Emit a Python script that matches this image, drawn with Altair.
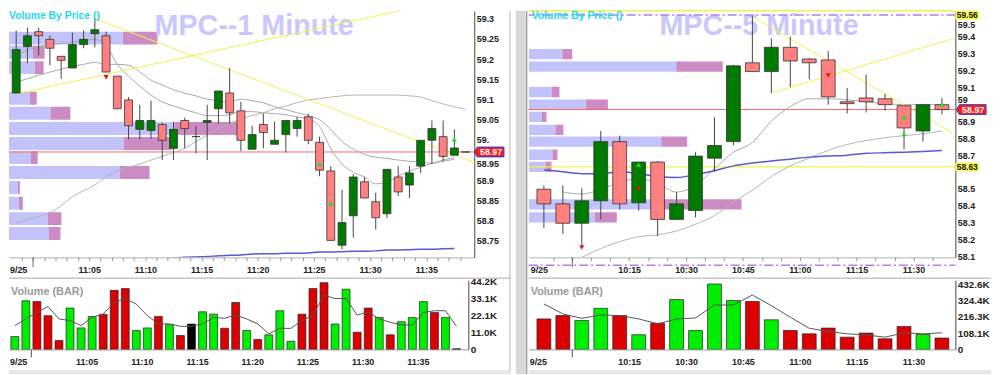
import altair as alt
import pandas as pd

FONT = "Liberation Sans"

# ====================== MPC 1 Minute (left) ======================
L_FIRST = -1.5          # centre of first bar, minutes after 11:00 (10:58 bar)
L_OPEN = [59.116, 59.231, 59.268, 59.249, 59.207, 59.178, 59.236, 59.263, 59.258, 59.158,
          59.099, 59.026, 59.023, 59.038, 58.979, 59.048, 59.008, 59.043, 59.077, 59.116,
          59.072, 58.977, 59.038, 58.989, 59.013, 59.028, 59.057, 58.994, 58.923, 58.739,
          58.812, 58.896, 58.847, 58.817, 58.908, 58.888, 58.935, 58.999, 59.008, 58.962, 58.970]
L_HIGH = [59.271, 59.278, 59.278, 59.258, 59.207, 59.266, 59.271, 59.300, 59.268, 59.158,
          59.106, 59.087, 59.097, 59.043, 59.045, 59.055, 59.035, 59.087, 59.121, 59.178,
          59.094, 59.035, 59.065, 59.045, 59.048, 59.057, 59.065, 59.008, 58.935, 58.876,
          58.915, 58.908, 58.869, 58.927, 58.935, 58.935, 58.999, 59.048, 59.048, 59.026, 58.970]
L_LOW = [59.114, 59.190, 59.209, 59.185, 59.151, 59.178, 59.227, 59.229, 59.168, 59.077,
         59.001, 59.001, 59.003, 58.950, 58.950, 58.979, 58.967, 58.950, 59.040, 59.040,
         58.972, 58.977, 58.979, 58.989, 58.969, 59.008, 58.989, 58.910, 58.751, 58.729,
         58.758, 58.856, 58.778, 58.807, 58.861, 58.856, 58.918, 58.940, 58.947, 58.962, 58.970]
L_CLOSE = [59.224, 59.258, 59.258, 59.227, 59.197, 59.236, 59.249, 59.273, 59.168, 59.077,
           59.035, 59.048, 59.048, 58.999, 59.026, 59.028, 59.008, 59.048, 59.121, 59.067,
           58.999, 59.013, 59.018, 58.999, 59.048, 59.048, 58.999, 58.925, 58.751, 58.795,
           58.908, 58.856, 58.807, 58.927, 58.871, 58.918, 58.999, 59.028, 58.959, 58.980, 58.970]
L_VOLUME = [8300, 31400, 30900, 21800, 5800, 26700, 13900, 21300, 22600, 38200,
            39300, 12200, 13900, 21300, 16000, 9000, 16400, 24300, 22800, 13700,
            30300, 12200, 6400, 9400, 25000, 5300, 22800, 39300, 43100, 16400,
            38900, 11100, 26700, 20700, 9400, 17900, 20700, 30900, 23900, 20700, 400]
L_VOLUME_AVG = [15400, 19700, 23900, 27700, 19700, 18600, 15400, 20700, 22900, 30300,
                32900, 29300, 21800, 16500, 16500, 14900, 14900, 16500, 20700, 20100,
                22200, 19700, 16500, 10100, 13600, 13600, 18600, 22200, 35000, 32900,
                32900, 22200, 24300, 19700, 17500, 15800, 15800, 23900, 25000, 25000, 14900]
L_AVG_FAST = [59.212, 59.222, 59.231, 59.236, 59.239, 59.241, 59.246, 59.249, 59.234, 59.187,
              59.158, 59.133, 59.111, 59.094, 59.084, 59.075, 59.067, 59.060, 59.060, 59.062,
              59.070, 59.070, 59.067, 59.065, 59.062, 59.057, 59.052, 59.033, 58.979, 58.940,
              58.920, 58.908, 58.891, 58.896, 58.910, 58.923, 58.932, 58.942, 58.950, 58.957]
L_AVG_MID = [59.143, 59.151, 59.160, 59.168, 59.175, 59.182, 59.187, 59.192, 59.187, 59.187,
             59.185, 59.168, 59.148, 59.136, 59.124, 59.116, 59.109, 59.101, 59.097, 59.094,
             59.101, 59.097, 59.092, 59.082, 59.075, 59.067, 59.060, 59.050, 59.026, 58.996,
             58.977, 58.964, 58.957, 58.954, 58.950, 58.947, 58.945, 58.942, 58.947, 58.952]
L_AVG_SLOW = [58.795, 58.803, 58.810, 58.820, 58.837, 58.859, 58.874, 58.888, 58.908, 58.923,
              58.932, 58.940, 58.950, 58.959, 58.969, 58.979, 58.996, 59.011, 59.028, 59.040,
              59.052, 59.060, 59.067, 59.077, 59.084, 59.092, 59.099, 59.102, 59.106, 59.109,
              59.111, 59.111, 59.111, 59.111, 59.111, 59.109, 59.106, 59.097, 59.089, 59.082, 59.075]
L_AVG_LONG_FROM = 13
L_AVG_LONG = [58.705, 58.707, 58.709, 58.710, 58.711, 58.713, 58.714, 58.715, 58.717, 58.718,
              58.718, 58.719, 58.719, 58.720, 58.722, 58.722, 58.723, 58.724, 58.724, 58.725,
              58.727, 58.727, 58.728, 58.729, 58.729, 58.730, 58.731]
L_VBP_PRICE = [59.252, 59.217, 59.179, 59.103, 59.066, 59.028, 58.991, 58.956, 58.919,
               58.882, 58.843, 58.805, 58.768]
L_VBP_BUY = [115, 24, 26, 21, 42, 167, 116, 22, 112, 9, 10, 39, 40]
L_VBP_SELL = [35, 12, 9, 7, 20, 70, 48, 7, 30, 2, 4, 14, 12]
L_LAST = 58.97
L_TREND_DOWN = ([5.5, 39.5], [59.300, 58.942])
L_TREND_UP = ([-1.5, 39.5], [59.114, 59.361])
L_MARK_UP = ([27, 28, 39], [58.940, 58.842, 59.001])
L_MARK_DOWN = ([8], [59.155])

# ====================== MPC 5 Minute (right) ======================
R_FIRST = -7.5          # centre of first bar, minutes after 10:00 (9:50 bar)
R_STEP = 5
R_OPEN = [58.498, 58.411, 58.296, 58.429, 58.780, 58.417, 58.659, 58.319, 58.371, 58.682, 58.780,
          59.247, 59.195, 59.339, 59.270, 59.264, 59.016, 59.039, 59.034, 58.993, 58.843, 58.999]
R_HIGH = [58.521, 58.521, 58.503, 58.843, 58.815, 58.659, 58.665, 58.481, 58.717, 58.924, 59.235,
          59.523, 59.391, 59.402, 59.275, 59.316, 59.097, 59.177, 59.062, 58.993, 58.999, 59.039]
R_LOW = [58.267, 58.233, 58.164, 58.319, 58.377, 58.371, 58.221, 58.319, 58.331, 58.601, 58.757,
         59.195, 59.068, 59.103, 59.149, 58.999, 58.947, 58.953, 58.964, 58.734, 58.780, 58.941]
R_CLOSE = [58.411, 58.296, 58.429, 58.780, 58.411, 58.659, 58.319, 58.411, 58.694, 58.757, 59.229,
           59.195, 59.339, 59.258, 59.247, 59.045, 59.005, 59.016, 58.999, 58.861, 58.999, 58.970]
R_VOLUME = [202000, 224000, 191000, 272000, 224000, 97000, 173000, 330000, 125000, 433000, 323000,
            317000, 196000, 125000, 103000, 141000, 81000, 108000, 70000, 152000, 99000, 75000]
R_VOLUME_AVG = [301000, 235000, 206000, 228000, 224000, 202000, 169000, 202000, 208000, 294000, 294000,
                360000, 290000, 213000, 140000, 119000, 103000, 96000, 81000, 110000, 103000, 110000]
R_AVG_FAST = [None, 58.481, 58.469, 58.498, 58.538, 58.561, 58.532, 58.481, 58.521, 58.619, 58.717,
              58.774, 58.901, 58.987, 59.034, 59.034, 59.028, 59.016, 59.005, 58.999, 58.999, 58.999]
R_AVG_SLOW = [None, None, 58.089, 58.146, 58.187, 58.216, 58.227, 58.250, 58.290, 58.342, 58.423,
              58.492, 58.573, 58.636, 58.682, 58.728, 58.763, 58.786, 58.803, 58.815, 58.826, 58.843]
R_AVG_LONG = [58.613, 58.601, 58.590, 58.590, 58.601, 58.590, 58.573, 58.567, 58.584, 58.607, 58.636,
              58.653, 58.665, 58.676, 58.688, 58.694, 58.699, 58.711, 58.714, 58.717, 58.722, 58.728]
R_VBP_PRICE = [59.298, 59.224, 59.074, 58.999, 58.927, 58.849, 58.780, 58.702, 58.630, 58.408, 58.331]
R_VBP_BUY = [34, 149, 23, 58, 13, 27, 134, 24, 17, 134, 67]
R_VBP_SELL = [10, 47, 8, 22, 5, 8, 26, 5, 6, 81, 22]
R_LAST = 58.97
R_SUPPORT = 58.63
R_DAY_HIGH = 59.56
R_DASH_LEVEL = 59.53
R_TREND_DOWN = ([47.5, 102.5], [59.520, 58.802])
R_TREND_UP = ([52.5, 102.5], [59.068, 59.404])
R_MARK_UP = ([5, 19, 19, 21], [58.642, 58.924, 58.826, 58.999])
R_MARK_DOWN = ([5, 2, 15], [58.498, 58.152, 59.172])

# ---------------------------------------------------------------
DIR_C = alt.Scale(domain=['up', 'down', 'flat'], range=['#007a00', '#ff8080', '#111111'])
DIR_V = alt.Scale(domain=['up', 'down', 'flat'], range=['#00ee00', '#dd0000', '#000000'])
ONE = pd.DataFrame({'k': [0]})
ARROW = "M-1,0L-0.8,-0.33L1,-0.33L1,0.33L-0.8,0.33Z"
BOX = "M-1,-0.36L1,-0.36L1,0.36L-1,0.36Z"
DASHDOT = [9, 3, 2, 3]


def candle_frame(first, step, o, h, l, c):
    n = len(o)
    d = ['up' if c[i] > o[i] else 'down' if c[i] < o[i] else 'flat' for i in range(n)]
    return pd.DataFrame({'t': [first + step * i for i in range(n)], 'open': o, 'high': h,
                         'low': l, 'close': c, 'dir': d})


def series_frame(first, step, vals, start=0, col='p'):
    df = pd.DataFrame({'t': [first + step * (start + i) for i in range(len(vals))], col: vals})
    return df.dropna()


def txt(s, x, y, size, color, align='left', baseline='middle', weight='bold'):
    return alt.Chart(ONE).mark_text(text=s, font=FONT, fontSize=size, fontWeight=weight,
                                    color=color, align=align,
                                    baseline=baseline).encode(x=alt.value(x), y=alt.value(y))


def deco_layers(deco):
    out = []
    for kind, x1, x2, y1, y2, col, dash in deco:
        if kind == 'rule':
            kw = dict(color=col, strokeWidth=1)
            if dash:
                kw['strokeDash'] = dash
                kw['strokeWidth'] = 1.5
            out.append(alt.Chart(ONE).mark_rule(**kw).encode(
                x=alt.value(x1), x2=alt.value(x2), y=alt.value(y1), y2=alt.value(y2)))
        else:
            out.append(alt.Chart(ONE).mark_rect(color=col).encode(
                x=alt.value(x1), x2=alt.value(x2), y=alt.value(y1), y2=alt.value(y2)))
    return out


def price_panel(w, h, xdom, ydom, clamp, xvals, xexpr, yvals, yfmt, yexpr, ybase,
                cdf, bw, lines, trends, hlines, mk_up, mk_dn, first, step,
                vbp, vbp_half, title, title_x, vbp_x, tags, deco, date_x):
    xs = alt.Scale(domain=xdom, nice=False, zero=False)
    ys = alt.Scale(domain=ydom, nice=False, zero=False, clamp=clamp)
    xa = alt.Axis(values=xvals, labelExpr=xexpr, title=None, grid=False, ticks=True, tickSize=3,
                  tickColor='#888888', domainColor='#b0b0b0', labelFont=FONT, labelFontSize=9,
                  labelFontWeight='bold', labelColor='#222222', labelPadding=5,
                  labelOverlap=False, labelFlush=False)
    yk = dict(orient='right', values=yvals, format=yfmt, title=None, grid=False, ticks=False,
              domainColor='#444444', labelFont=FONT, labelFontSize=9, labelFontWeight='bold',
              labelColor='#222222', labelPadding=2, labelOverlap=False, labelFlush=False)
    if yexpr:
        yk['labelExpr'] = yexpr
    if ybase:
        yk['labelBaseline'] = ybase
    ya = alt.Axis(**yk)

    def X(f):
        return alt.X(f + ':Q', scale=xs, axis=xa)

    def Y(f):
        return alt.Y(f + ':Q', scale=ys, axis=ya)

    # volume by price (own horizontal scale)
    vp, vb, vs = vbp
    vdf = pd.DataFrame({'plo': [p - vbp_half for p in vp], 'phi': [p + vbp_half for p in vp],
                        'a0': [0] * len(vp), 'a1': vb, 'a2': [b + s for b, s in zip(vb, vs)]})
    vx = alt.Scale(domain=[0, w], nice=False, zero=False)
    lav = alt.Chart(vdf).mark_bar(color='#c3c3fb', clip=True).encode(
        x=alt.X('a0:Q', scale=vx, axis=None), x2='a1', y=Y('plo'), y2='phi')
    mau = alt.Chart(vdf).mark_bar(color='#cc8cc3', clip=True).encode(
        x=alt.X('a1:Q', scale=vx, axis=None), x2='a2', y=Y('plo'), y2='phi')

    layers = [txt(title, title_x, 24, 29, '#c8c8ff', baseline='alphabetic')]
    for price, color, dash, sw in hlines:
        kw = dict(color=color, strokeWidth=sw)
        if dash:
            kw['strokeDash'] = dash
        layers.append(alt.Chart(pd.DataFrame({'p': [price]})).mark_rule(**kw).encode(y=Y('p')))
    for df, color, sw in lines:
        layers.append(alt.Chart(df).mark_line(color=color, strokeWidth=sw, clip=True,
                                              interpolate='monotone').encode(x=X('t'), y=Y('p')))
    for (tt, pp) in trends:
        layers.append(alt.Chart(pd.DataFrame({'t': tt, 'p': pp})).mark_line(
            color='#f2f24a', strokeWidth=1, clip=True).encode(x=X('t'), y=Y('p')))
    layers.append(alt.Chart(cdf).mark_rule(color='#444444', strokeWidth=1, clip=True).encode(
        x=X('t'), y=Y('low'), y2='high'))
    layers.append(alt.Chart(cdf).mark_bar(width=bw, stroke='#333333', strokeWidth=0.8,
                                          clip=True).encode(
        x=X('t'), y=Y('open'), y2='close', color=alt.Color('dir:N', scale=DIR_C, legend=None)))
    up = pd.DataFrame({'t': [first + step * i for i in mk_up[0]], 'p': mk_up[1]})
    dn = pd.DataFrame({'t': [first + step * i for i in mk_dn[0]], 'p': mk_dn[1]})
    layers.append(alt.Chart(up).mark_point(shape='triangle-up', filled=True, size=26, opacity=1,
                                           color='#1ee01e', clip=True).encode(x=X('t'), y=Y('p')))
    layers.append(alt.Chart(dn).mark_point(shape='triangle-down', filled=True, size=26, opacity=1,
                                           color='#ee1111', clip=True).encode(x=X('t'), y=Y('p')))
    for tg in tags:
        df = pd.DataFrame({'p': [tg['price']], 'label': [tg['text']]})
        yenc = alt.value(tg['ypix']) if tg.get('ypix') is not None else Y('p')
        kw = dict(shape=tg['shape'], size=tg['size'], filled=True, fill=tg['fill'], opacity=1)
        if tg.get('stroke'):
            kw['stroke'] = tg['stroke']
            kw['strokeWidth'] = 1
        else:
            kw['strokeWidth'] = 0
        layers.append(alt.Chart(df).mark_point(**kw).encode(x=alt.value(tg['x']), y=yenc))
        layers.append(alt.Chart(df).mark_text(font=FONT, fontSize=tg.get('fs', 9), fontWeight='bold',
                                              color=tg['tcolor'], align='center',
                                              baseline='middle').encode(
            x=alt.value(tg['x'] + tg.get('tdx', 0)), y=yenc, text='label:N'))
    layers.append(txt('Volume By Price ()', vbp_x, 0, 10.5, '#22d8ee', baseline='top'))
    layers.append(txt('9/25', date_x, h + 13, 9, '#222222'))
    layers.append(alt.Chart(pd.DataFrame({'t': [0]})).mark_rule(color='#666666').encode(
        x=X('t'), y=alt.value(h), y2=alt.value(h + 10)))
    layers += deco_layers(deco)
    inner = alt.layer(*layers)
    return alt.layer(alt.layer(lav, mau), inner).resolve_scale(x='independent').properties(
        width=w, height=h)


def volume_panel(w, h, xdom, ymax, xvals, xexpr, yvals, yexpr, vdf, bw, adf, deco):
    xs = alt.Scale(domain=xdom, nice=False, zero=False)
    ys = alt.Scale(domain=[0, ymax], nice=False, zero=True)
    xa = alt.Axis(values=xvals, labelExpr=xexpr, title=None, grid=False, ticks=False,
                  domainColor='#999999', labelFont=FONT, labelFontSize=9, labelFontWeight='bold',
                  labelColor='#222222', labelPadding=8, labelOverlap=False, labelFlush=False)
    ya = alt.Axis(orient='right', values=yvals, labelExpr=yexpr, title=None, grid=False,
                  ticks=False, domainColor='#444444', labelFont=FONT, labelFontSize=10,
                  labelFontWeight='bold', labelColor='#222222', labelPadding=2,
                  labelOverlap=False, labelFlush=False)
    X = alt.X('t:Q', scale=xs, axis=xa)
    bars = alt.Chart(vdf).mark_bar(width=bw, stroke='#222222', strokeWidth=0.7, clip=True).encode(
        x=X, y=alt.Y('vol:Q', stack=None, scale=ys, axis=ya),
        color=alt.Color('dir:N', scale=DIR_V, legend=None))
    avg = alt.Chart(adf).mark_line(color='#555555', strokeWidth=1, clip=True).encode(
        x=X, y=alt.Y('vol:Q', scale=ys, axis=ya))
    tick0 = alt.Chart(pd.DataFrame({'t': [0]})).mark_rule(color='#555555').encode(
        x=X, y=alt.value(h), y2=alt.value(h + 8))
    layers = [bars, avg, tick0, txt('Volume (BAR)', 2, 12, 11, '#9a9a9a'),
              txt('9/25', 1, h + 13, 9, '#222222')] + deco_layers(deco)
    return alt.layer(*layers).properties(width=w, height=h)


# ---------------- build left ----------------
LW, LH = 470, 249
l_candles = candle_frame(L_FIRST, 1, L_OPEN, L_HIGH, L_LOW, L_CLOSE)
l_lines = [
    (series_frame(L_FIRST, 1, L_AVG_SLOW), '#b4b4b4', 1),
    (series_frame(L_FIRST, 1, L_AVG_MID), '#a8a8a8', 1),
    (series_frame(L_FIRST, 1, L_AVG_FAST), '#a8a8a8', 1),
    (series_frame(L_FIRST, 1, L_AVG_LONG, start=L_AVG_LONG_FROM), '#5a5ad0', 1.5),
]
L_XEXPR = "(datum.value > 0 && datum.value % 5 == 0) ? '11:' + (datum.value < 10 ? '0' : '') + datum.value : ''"
left_price = price_panel(
    LW, LH, [-1.7, 38.83], [58.709, 59.3196], False,
    list(range(-1, 39)), L_XEXPR,
    [round(58.75 + 0.05 * k, 2) for k in range(12)], '.2~f',
    "datum.value == 59 ? '59.' : datum.label",
    {"condition": {"test": "abs(datum.value - 58.95) < 0.001", "value": "top"}, "value": "middle"},
    l_candles, 8, l_lines, [L_TREND_DOWN, L_TREND_UP], [(L_LAST, '#ff6464', None, 1)],
    L_MARK_UP, L_MARK_DOWN, L_FIRST, 1,
    (L_VBP_PRICE, L_VBP_BUY, L_VBP_SELL), 0.016, 'MPC--1 Minute', 147, 0,
    [dict(price=L_LAST, text='58.97', shape=ARROW, size=900, fill='#ff1a1a', stroke='#2a3fd6',
          tcolor='#ffffff', x=LW + 15, tdx=2)],
    [('rule', 506, 506, 0, 367, '#b4b4b4', None), ('rect', 512, 522, 0, 367, '#d9d9d9', None),
     ('rule', 523, 523, 0, 367, '#7a7a7a', None), ('rule', 0, 506, 270, 270, '#a8a8a8', None)],
    1)

l_vol = l_candles[['t', 'dir']].copy()
l_vol['vol'] = L_VOLUME
left_volume = volume_panel(
    464, 70, [-1.58, 39.12], 44800, list(range(5, 40, 5)),
    "'11:' + (datum.value < 10 ? '0' : '') + datum.value",
    [0, 11040, 22100, 33140, 44200],
    "datum.value == 0 ? '0' : format(datum.value / 1000, '.1f') + 'K'",
    l_vol, 8, series_frame(L_FIRST, 1, L_VOLUME_AVG, col='vol'),
    [('rect', 0, 506, 91, 95, '#e6e6e6', None)])

# ---------------- build right ----------------
RW, RH = 431, 249
r_candles = candle_frame(R_FIRST, R_STEP, R_OPEN, R_HIGH, R_LOW, R_CLOSE)
r_lines = [
    (series_frame(R_FIRST, R_STEP, R_AVG_SLOW), '#b4b4b4', 1),
    (series_frame(R_FIRST, R_STEP, R_AVG_FAST), '#a8a8a8', 1),
    (series_frame(R_FIRST, R_STEP, R_AVG_LONG), '#5a5ad0', 1.5),
]
R_TIME = ("floor((600 + datum.value) / 60) + ':' + ((600 + datum.value) % 60 < 10 ? '0' : '') "
          "+ ((600 + datum.value) % 60)")
R_YVALS = [v for v in [round(58.1 + 0.1 * k, 1) for k in range(15)] if v != 58.6]
right_price = price_panel(
    RW, RH, [-10.2, 99.74], [58.094, 59.555], True,
    list(range(-5, 100, 5)), "(datum.value > 0 && datum.value % 15 == 0) ? " + R_TIME + " : ''",
    R_YVALS, '.1~f', None,
    {"condition": [{"test": "datum.value > 59.45", "value": "top"},
                   {"test": "datum.value == 59", "value": "bottom"}], "value": "middle"},
    r_candles, 14, r_lines, [R_TREND_DOWN, R_TREND_UP],
    [(R_LAST, '#ff6464', None, 1), (R_SUPPORT, '#f2f24a', None, 1.2),
     (R_DAY_HIGH, '#f2f24a', None, 1.5), (R_DASH_LEVEL, '#b07ef0', DASHDOT, 1.5)],
    R_MARK_UP, R_MARK_DOWN, R_FIRST, R_STEP,
    (R_VBP_PRICE, R_VBP_BUY, R_VBP_SELL), 0.0305, 'MPC--5 Minute', 132, 3,
    [dict(price=R_LAST, text='58.97', shape=ARROW, size=900, fill='#ff1a1a', stroke='#2a3fd6',
          tcolor='#ffffff', x=RW + 16, tdx=2),
     dict(price=R_SUPPORT, text='58.63', shape=BOX, size=576, fill='#ffff3c', tcolor='#111111',
          x=RW + 12, fs=8.5),
     dict(price=R_DAY_HIGH, text='59.56', shape=BOX, size=576, fill='#ffff3c', tcolor='#111111',
          x=RW + 12, ypix=4.5, fs=8.5)],
    [('rule', 0, 467, 270, 270, '#a8a8a8', None), ('rule', 0, RW, 257, 257, '#b07ef0', DASHDOT)],
    2)

r_vol = r_candles[['t', 'dir']].copy()
r_vol['vol'] = R_VOLUME
right_volume = volume_panel(
    431, 70, [-10.2, 99.74], 458800, list(range(15, 100, 15)), R_TIME,
    [0, 108120, 216300, 324420, 432600],
    "datum.value == 0 ? '0' : format(datum.value / 1000, '.1f') + 'K'",
    r_vol, 14, series_frame(R_FIRST, R_STEP, R_VOLUME_AVG, col='vol'),
    [('rect', 0, 467, 91, 95, '#e6e6e6', None)])

chart = alt.concat(
    left_price, right_price, left_volume, right_volume,
    columns=2, spacing={"row": 23, "column": 55}, bounds="flush", align="each"
).resolve_scale(color='independent').properties(
    padding=0, background='white').configure_view(stroke=None)

chart.save("out.html", embed_options={"renderer": "svg", "actions": False})
